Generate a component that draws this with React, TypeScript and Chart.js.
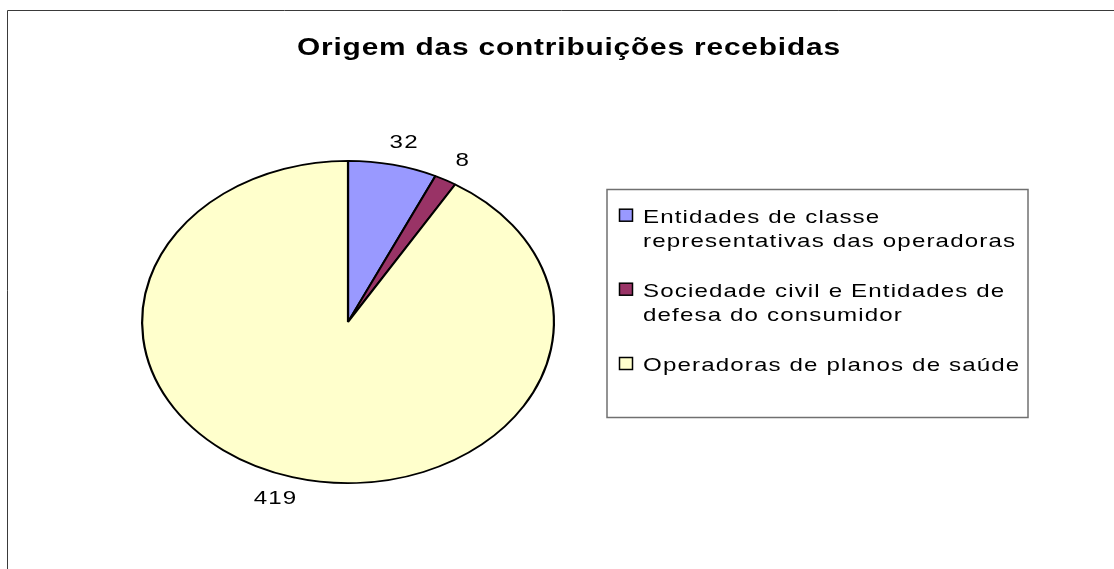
import React, { useEffect, useRef } from "react";
import { Chart, registerables } from "chart.js";

Chart.register(...registerables);

const title = "Origem das contribuições recebidas";
const categories = [
  "Entidades de classe representativas das operadoras",
  "Sociedade civil e Entidades de defesa do consumidor",
  "Operadoras de planos de saúde",
];
const legendLines = [
  ["Entidades de classe", "representativas das operadoras"],
  ["Sociedade civil e Entidades de", "defesa do consumidor"],
  ["Operadoras de planos de saúde"],
];
const values = [32, 8, 419];
const colors = ["#9999FF", "#993366", "#FFFFCC"];

const FONT = '"Liberation Sans", Arial, Helvetica, sans-serif';
const SY = 162 / 207;
const SX = 1.27;

function rawWidth(ctx: CanvasRenderingContext2D, text: string) {
  let w = 0;
  for (const ch of text) w += ctx.measureText(ch).width;
  return w;
}
function fitSpacing(ctx: CanvasRenderingContext2D, text: string, target: number) {
  const n = Array.from(text).length;
  return (target / SX - rawWidth(ctx, text)) / (n - 1);
}
function spacedWidth(ctx: CanvasRenderingContext2D, text: string, sp: number) {
  return SX * (rawWidth(ctx, text) + sp * (Array.from(text).length - 1));
}
function drawSpaced(ctx: CanvasRenderingContext2D, text: string, x: number, y: number, sp: number) {
  ctx.save();
  ctx.translate(x, y);
  ctx.scale(SX, 1);
  let cx = 0;
  for (const ch of text) {
    ctx.fillText(ch, cx, 0);
    cx += ctx.measureText(ch).width + sp;
  }
  ctx.restore();
}

const ellipsePlugin = {
  id: "ellipse",
  beforeDatasetsDraw(chart: any) {
    const ctx = chart.ctx;
    const arc = chart.getDatasetMeta(0).data[0];
    ctx.save();
    ctx.translate(arc.x, arc.y);
    ctx.scale(1, SY);
    ctx.translate(-arc.x, -arc.y);
  },
  afterDatasetsDraw(chart: any) {
    chart.ctx.restore();
  },
  afterDraw(chart: any) {
    const ctx: CanvasRenderingContext2D = chart.ctx;
    ctx.save();
    // outer frame
    ctx.strokeStyle = "#3a3a3a";
    ctx.lineWidth = 1;
    ctx.beginPath();
    ctx.moveTo(7.5, chart.height + 5);
    ctx.lineTo(7.5, 10.5);
    ctx.lineTo(chart.width + 5, 10.5);
    ctx.stroke();

    // title
    ctx.fillStyle = "#000";
    ctx.textBaseline = "alphabetic";
    ctx.textAlign = "left";
    ctx.font = `bold 23.5px ${FONT}`;
    const tTarget = 543;
    const tSp = fitSpacing(ctx, title, tTarget);
    drawSpaced(ctx, title, 568.5 - tTarget / 2, 55, tSp);

    // legend
    ctx.font = `19px ${FONT}`;
    const sp = fitSpacing(ctx, "representativas das operadoras", 372);
    ctx.strokeStyle = "#707070";
    ctx.lineWidth = 1.5;
    ctx.strokeRect(607, 189.5, 421, 228);
    const baselines = [[222.7, 246.7], [296.7, 321], [371]];
    legendLines.forEach((lines, i) => {
      const b0 = baselines[i][0];
      ctx.fillStyle = colors[i];
      ctx.fillRect(619.5, b0 - 13.5, 13, 12);
      ctx.strokeStyle = "#000";
      ctx.lineWidth = 1.5;
      ctx.strokeRect(619.5, b0 - 13.5, 13, 12);
      ctx.fillStyle = "#000";
      lines.forEach((ln, j) => drawSpaced(ctx, ln, 643, baselines[i][j], sp));
    });

    // data labels
    const meta = chart.getDatasetMeta(0);
    ctx.textBaseline = "middle";
    meta.data.forEach((a: any, i: number) => {
      const mid = (a.startAngle + a.endAngle) / 2;
      const R = a.outerRadius;
      const txt = String(values[i]);
      const w = spacedWidth(ctx, txt, sp);
      const x = a.x + (R + 22) * Math.cos(mid) + w * Math.cos(mid);
      const y = a.y + (R * SY + 22) * Math.sin(mid);
      drawSpaced(ctx, txt, x - w / 2, y, sp);
    });
    ctx.restore();
  },
};

export default function App() {
  const ref = useRef<HTMLCanvasElement>(null);
  useEffect(() => {
    if (!ref.current) return;
    const chart = new Chart(ref.current, {
      type: "pie",
      data: {
        labels: categories,
        datasets: [
          {
            data: values,
            backgroundColor: colors,
            borderColor: "#000",
            borderWidth: 2.2,
          },
        ],
      },
      options: {
        animation: false,
        responsive: true,
        maintainAspectRatio: false,
        layout: { padding: { left: 141, top: 115, right: 559, bottom: 40 } },
        plugins: {
          legend: { display: false },
          title: { display: false },
          tooltip: { enabled: false },
        },
        events: [],
      },
      plugins: [ellipsePlugin],
    });
    return () => chart.destroy();
  }, []);
  return (
    <div style={{ position: "absolute", left: 0, top: 0, width: 1114, height: 569, background: "#fff" }}>
      <canvas ref={ref} />
    </div>
  );
}
